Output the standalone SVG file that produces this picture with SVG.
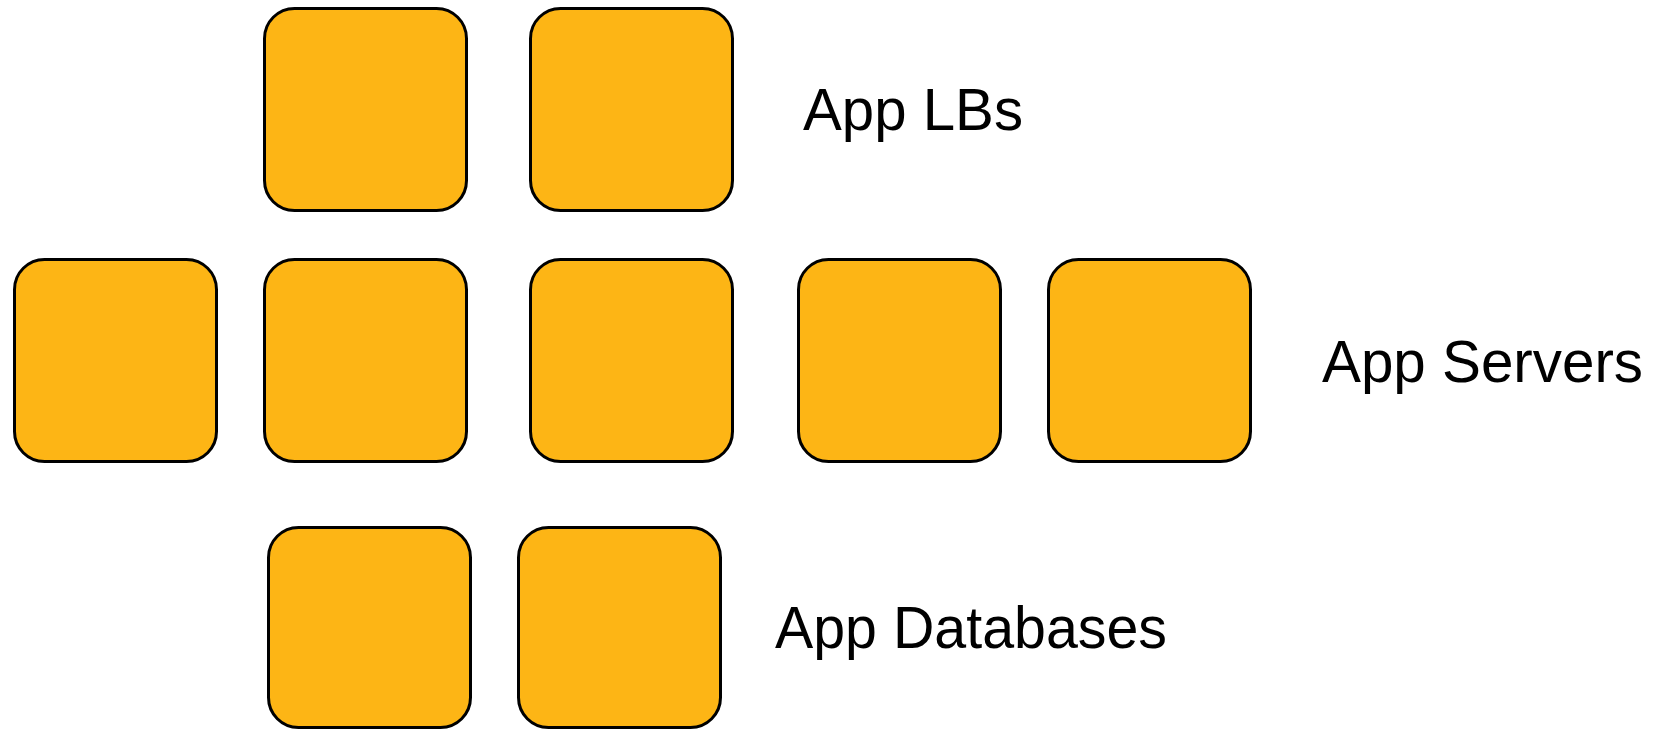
<svg xmlns="http://www.w3.org/2000/svg" width="1663" height="732" viewBox="0 0 1663 732">
<style>
.box{fill:#FDB515;stroke:#000;stroke-width:3}
.lbl{font-family:"Liberation Sans",Arial,sans-serif;font-size:60px;fill:#000}
</style>
<rect width="1663" height="732" fill="#fff"/>
<g id="lb1"><rect class="box" x="264.5" y="8.5" width="202" height="202" rx="30"/></g>
<g id="lb2"><rect class="box" x="530.5" y="8.5" width="202" height="202" rx="30"/></g>
<g id="srv1"><rect class="box" x="14.5" y="259.5" width="202" height="202" rx="30"/></g>
<g id="srv2"><rect class="box" x="264.5" y="259.5" width="202" height="202" rx="30"/></g>
<g id="srv3"><rect class="box" x="530.5" y="259.5" width="202" height="202" rx="30"/></g>
<g id="srv4"><rect class="box" x="798.5" y="259.5" width="202" height="202" rx="30"/></g>
<g id="srv5"><rect class="box" x="1048.5" y="259.5" width="202" height="202" rx="30"/></g>
<g id="db1"><rect class="box" x="268.5" y="527.5" width="202" height="200" rx="30"/></g>
<g id="db2"><rect class="box" x="518.5" y="527.5" width="202" height="200" rx="30"/></g>
<g id="connectors"></g>
<g id="labels">
<text class="lbl" x="803" y="130" textLength="220" lengthAdjust="spacingAndGlyphs">App LBs</text>
<text class="lbl" x="1322" y="382" textLength="321" lengthAdjust="spacingAndGlyphs">App Servers</text>
<text class="lbl" x="775" y="648" textLength="392" lengthAdjust="spacingAndGlyphs">App Databases</text>
</g>
</svg>
